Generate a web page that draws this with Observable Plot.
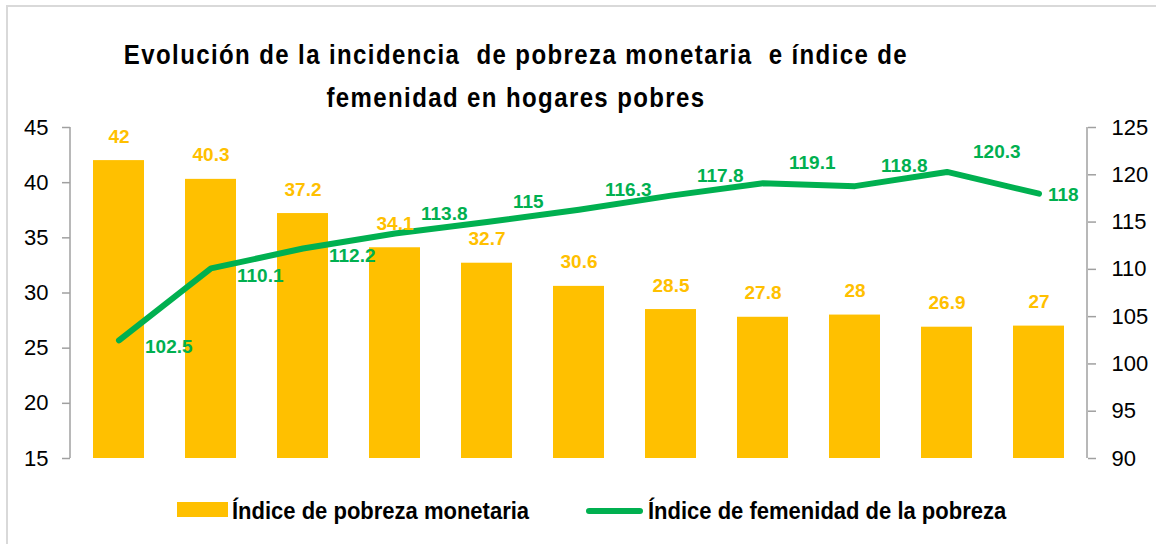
<!DOCTYPE html>
<html>
<head>
<meta charset="utf-8">
<script src="https://cdn.jsdelivr.net/npm/d3@7"></script>
<script src="https://cdn.jsdelivr.net/npm/@observablehq/plot@0.6"></script>
<style>
  html, body { margin: 0; padding: 0; background: #fff; }
  #wrap { position: relative; width: 1156px; height: 544px; overflow: hidden; background: #fff; font-family: "Liberation Sans", Arial, sans-serif; }
  #border { position: absolute; left: 6px; top: 5px; width: 1300px; height: 700px; border: 2px solid #d9d9d9; box-sizing: border-box; }
  #title { position: absolute; left: 0; top: 38px; width: 1032px; text-align: center; font-weight: bold; font-size: 24px; letter-spacing: 1.4px; line-height: 38px; white-space: pre; color: #000; transform: scaleY(1.13); transform-origin: 50% 50%; }
  #chart { position: absolute; left: 0; top: 110px; }
  #legend { position: absolute; left: 0; top: 480px; width: 1156px; height: 64px; }
  .lg { position: absolute; }
  .lgtext { position: absolute; font-weight: bold; font-size: 22px; line-height: 30px; color: #000; white-space: nowrap; transform: scaleY(1.12); transform-origin: 0 50%; }
</style>
</head>
<body>
<div id="wrap">
  <div id="border"></div>
  <div id="title"></div>
  <div id="chart"></div>
  <div id="legend"></div>
</div>
<script>
// ---- data ----
const titleLines = ["Evolución de la incidencia  de pobreza monetaria  e índice de", "femenidad en hogares pobres"];
const periods = ["1", "2", "3", "4", "5", "6", "7", "8", "9", "10", "11"];
const povertyIndex = [42, 40.3, 37.2, 34.1, 32.7, 30.6, 28.5, 27.8, 28, 26.9, 27];
const femininityIndex = [102.5, 110.1, 112.2, 113.8, 115, 116.3, 117.8, 119.1, 118.8, 120.3, 118];
const leftTicks = [15, 20, 25, 30, 35, 40, 45];
const rightTicks = [90, 95, 100, 105, 110, 115, 120, 125];
const seriesNames = ["Índice de pobreza monetaria", "Índice de femenidad de la pobreza"];

// ---- styles ----
const YELLOW = "#FFC000";
const GREEN = "#00B050";
const AXIS = "#A0A0A0";

const leftDomain = [leftTicks[0], leftTicks[leftTicks.length - 1]];
const rightDomain = [rightTicks[0], rightTicks[rightTicks.length - 1]];
const toLeft = v => leftDomain[0] + (v - rightDomain[0]) * (leftDomain[1] - leftDomain[0]) / (rightDomain[1] - rightDomain[0]);
const fromLeft = v => rightDomain[0] + (v - leftDomain[0]) * (rightDomain[1] - rightDomain[0]) / (leftDomain[1] - leftDomain[0]);

const rows = periods.map((p, i) => ({ period: p, i, poverty: povertyIndex[i], fem: femininityIndex[i], femL: toLeft(femininityIndex[i]) }));
const n = rows.length;

document.getElementById("title").textContent = titleLines.join("\n");

// axis lines drawn from the plot's own dimensions
function axisLines(index, scales, values, dimensions) {
  const g = d3.create("svg:g").attr("stroke", AXIS).attr("stroke-width", 1.5);
  const top = dimensions.marginTop, bottom = dimensions.height - dimensions.marginBottom;
  const xl = dimensions.marginLeft, xr = dimensions.width - dimensions.marginRight;
  g.append("line").attr("x1", xl).attr("x2", xl).attr("y1", top).attr("y2", bottom);
  g.append("line").attr("x1", xr).attr("x2", xr).attr("y1", top).attr("y2", bottom);
  return g.node();
}

const labelFont = { fontSize: 19, fontWeight: "bold" };

const chart = Plot.plot({
  width: 1156,
  height: 370,
  marginTop: 17,
  marginBottom: 22,
  marginLeft: 70,
  marginRight: 69,
  style: { fontFamily: "'Liberation Sans', Arial, sans-serif", fontSize: "22px", background: "transparent", color: "#000" },
  x: { domain: periods, paddingInner: 0.45, paddingOuter: 0.225, axis: null },
  y: { domain: leftDomain },
  marks: [
    Plot.barY(rows, { x: "period", y1: leftDomain[0], y2: "poverty", fill: YELLOW }),
    Plot.axisY({ anchor: "left", ticks: leftTicks, tickSize: 8, tickPadding: 14, stroke: AXIS, strokeWidth: 1.5, fill: "#000", fontSize: 22, label: null }),
    Plot.axisY({ anchor: "right", ticks: rightTicks.map(toLeft), tickFormat: d => String(Math.round(fromLeft(d))), tickSize: 8, tickPadding: 16, stroke: AXIS, strokeWidth: 1.5, fill: "#000", fontSize: 22, label: null }),
    axisLines,
    Plot.line(rows, { x: "period", y: "femL", stroke: GREEN, strokeWidth: 6, strokeLinecap: "round", strokeLinejoin: "round" }),
    Plot.text(rows, { x: "period", y: "poverty", text: d => String(d.poverty), dy: -24, fill: YELLOW, ...labelFont }),
    // early points: label below-right
    Plot.text(rows.filter(d => d.i < 3), { x: "period", y: "femL", text: d => String(d.fem), textAnchor: "start", dx: 26, dy: 7, fill: GREEN, ...labelFont }),
    // middle points: label above-right
    Plot.text(rows.filter(d => d.i >= 3 && d.i < n - 1), { x: "period", y: "femL", text: d => String(d.fem), textAnchor: "start", dx: 26, dy: -20, fill: GREEN, ...labelFont }),
    // last point: label right
    Plot.text(rows.filter(d => d.i === n - 1), { x: "period", y: "femL", text: d => String(d.fem), textAnchor: "start", dx: 9, dy: 1, fill: GREEN, ...labelFont })
  ]
});
document.getElementById("chart").appendChild(chart);

// legend
const legend = document.getElementById("legend");
legend.innerHTML = `
  <div class="lg" style="left:177px; top:22px; width:51px; height:15px; background:${YELLOW}"></div>
  <div class="lgtext" style="left:232px; top:16px">${seriesNames[0]}</div>
  <div class="lg" style="left:586px; top:28px; width:57px; height:6px; border-radius:3px; background:${GREEN}"></div>
  <div class="lgtext" style="left:648px; top:16px">${seriesNames[1]}</div>
`;
</script>
</body>
</html>
